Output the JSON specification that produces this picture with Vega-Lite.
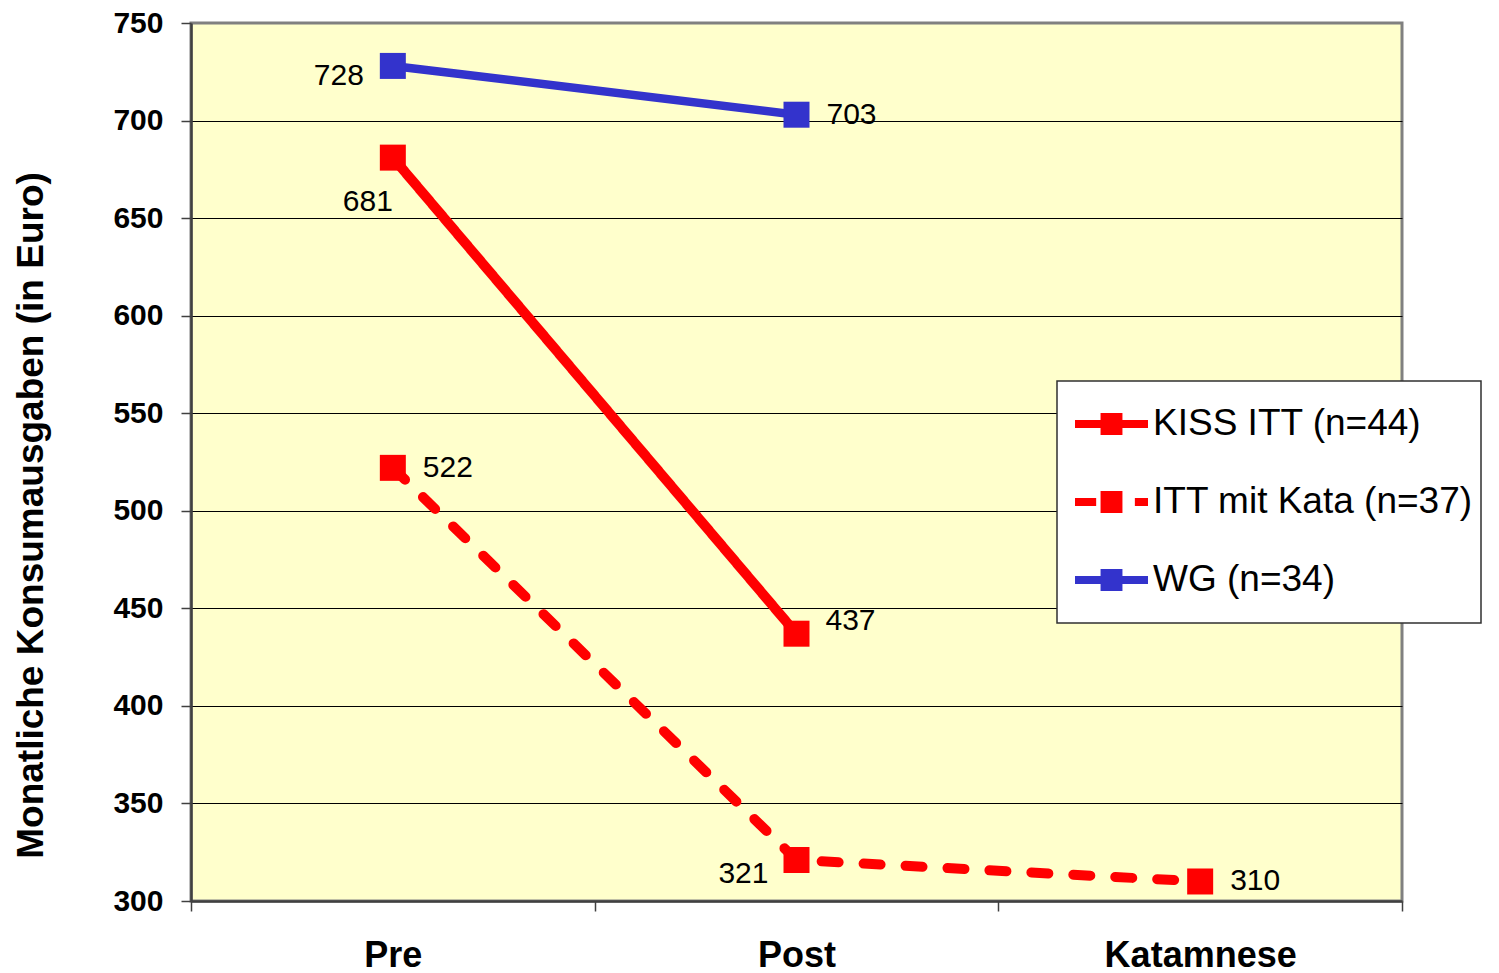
{
  "$schema": "https://vega.github.io/schema/vega-lite/v6.json",
  "width": 1211,
  "height": 878,
  "autosize": {"type": "none"},
  "padding": {"left": 191, "top": 23, "right": 97, "bottom": 72},
  "background": "white",
  "config": {
    "view": {"fill": "#FFFFCC", "stroke": "#808080", "strokeWidth": 3},
    "font": "Liberation Sans"
  },
  "data": {
    "values": [
      {"zeit": "Pre", "gruppe": "KISS ITT (n=44)", "wert": 681},
      {"zeit": "Post", "gruppe": "KISS ITT (n=44)", "wert": 437},
      {"zeit": "Pre", "gruppe": "ITT mit Kata (n=37)", "wert": 522},
      {"zeit": "Post", "gruppe": "ITT mit Kata (n=37)", "wert": 321},
      {"zeit": "Katamnese", "gruppe": "ITT mit Kata (n=37)", "wert": 310},
      {"zeit": "Pre", "gruppe": "WG (n=34)", "wert": 728},
      {"zeit": "Post", "gruppe": "WG (n=34)", "wert": 703}
    ]
  },
  "encoding": {
    "x": {
      "field": "zeit",
      "type": "nominal",
      "sort": ["Pre", "Post", "Katamnese"],
      "scale": {"type": "band", "paddingInner": 0, "paddingOuter": 0},
      "axis": {
        "title": null,
        "labelAngle": 0,
        "labelFont": "Liberation Sans",
        "labelFontSize": 36,
        "labelFontWeight": "bold",
        "labelColor": "black",
        "labelBaseline": "alphabetic",
        "labelPadding": 55,
        "labelLimit": 600,
        "tickBand": "extent",
        "tickSize": 10,
        "tickColor": "#404040",
        "tickWidth": 1.5,
        "domainColor": "#404040",
        "domainWidth": 2.5,
        "grid": false
      }
    },
    "y": {
      "field": "wert",
      "type": "quantitative",
      "scale": {"domain": [300, 750], "nice": false, "zero": false},
      "axis": {
        "title": "Monatliche Konsumausgaben (in Euro)",
        "values": [300, 350, 400, 450, 500, 550, 600, 650, 700, 750],
        "titleFont": "Liberation Sans",
        "titleFontSize": 37,
        "titleFontWeight": "bold",
        "titleColor": "black",
        "titleAngle": -90,
        "titleBaseline": "alphabetic",
        "titleAlign": "center",
        "titleX": -149,
        "titleY": 492,
        "labelFont": "Liberation Sans",
        "labelFontSize": 30,
        "labelFontWeight": "bold",
        "labelColor": "black",
        "labelPadding": 18,
        "tickSize": 10,
        "tickColor": "#404040",
        "tickWidth": 1.5,
        "domainColor": "#404040",
        "domainWidth": 2.5,
        "grid": true,
        "gridColor": {"condition": {"test": "datum.value == 750 || datum.value == 300", "value": "transparent"}, "value": "black"},
        "gridWidth": 1.2
      }
    }
  },
  "layer": [
    {
      "transform": [{"filter": "datum.gruppe !== 'WG (n=34)'"}],
      "mark": {"type": "line", "strokeCap": "round", "strokeJoin": "round", "strokeWidth": 10},
      "encoding": {
        "order": {"value": null},
        "color": {
          "field": "gruppe",
          "type": "nominal",
          "scale": {
            "domain": ["KISS ITT (n=44)", "ITT mit Kata (n=37)", "WG (n=34)"],
            "range": ["#FF0000", "#FF0000", "#3333CC"]
          },
          "legend": {
            "title": null,
            "orient": "none",
            "legendX": 866,
            "legendY": 358,
            "direction": "vertical",
            "padding": 8,
            "fillColor": "white",
            "strokeColor": "#303030",
            "symbolSize": 5329,
            "symbolStrokeWidth": 0,
            "symbolStrokeColor": "transparent",
            "symbolOffset": 10,
            "labelOffset": 5,
            "rowPadding": 8,
            "clipHeight": 70,
            "labelFont": "Liberation Sans",
            "labelFontSize": 37,
            "labelColor": "black",
            "labelLimit": 700,
            "labelBaseline": "middle",
            "encode": {
              "symbols": {
                "update": {
                  "shape": {"signal": "datum.value === 'ITT mit Kata (n=37)' ? 'M-1,-0.11H-0.42V0.11H-1Z M-0.3,-0.3H0.3V0.3H-0.3Z M0.64,-0.11H1V0.11H0.64Z' : 'M-1,-0.11H1V0.11H-1Z M-0.3,-0.3H0.3V0.3H-0.3Z'"},
                  "fill": {"signal": "datum.value === 'WG (n=34)' ? '#3333CC' : '#FF0000'"},
                  "stroke": {"value": "transparent"},
                  "strokeWidth": {"value": 0},
                  "strokeDash": {"value": [1, 0]},
                  "opacity": {"value": 1},
                  "fillOpacity": {"value": 1}
                }
              },
              "legend": {"update": {"strokeWidth": {"value": 1.5}}}
            }
          }
        },
        "strokeDash": {
          "field": "gruppe",
          "type": "nominal",
          "scale": {
            "domain": ["KISS ITT (n=44)", "ITT mit Kata (n=37)", "WG (n=34)"],
            "range": [[1, 0], [17, 25], [1, 0]]
          },
          "legend": null
        }
      }
    },
    {
      "transform": [{"filter": "datum.gruppe === 'WG (n=34)'"}],
      "mark": {"type": "line", "strokeCap": "round", "strokeJoin": "round", "strokeWidth": 8.5},
      "encoding": {
        "order": {"value": null},
        "color": {"field": "gruppe", "type": "nominal"}
      }
    },
    {
      "mark": {"type": "point", "shape": "square", "filled": true, "size": 676, "opacity": 1},
      "encoding": {
        "color": {"field": "gruppe", "type": "nominal"}
      }
    },
    {
      "transform": [{"filter": "datum.gruppe === 'WG (n=34)' && datum.zeit === 'Pre'"}],
      "mark": {"type": "text", "align": "right", "baseline": "middle", "dx": -29, "dy": 10, "fontSize": 30, "font": "Liberation Sans", "color": "black"},
      "encoding": {"text": {"field": "wert", "type": "quantitative"}}
    },
    {
      "transform": [{"filter": "(datum.gruppe === 'WG (n=34)' && datum.zeit === 'Post') || (datum.gruppe === 'ITT mit Kata (n=37)' && datum.zeit !== 'Post')"}],
      "mark": {"type": "text", "align": "left", "baseline": "middle", "dx": 30, "dy": 0, "fontSize": 30, "font": "Liberation Sans", "color": "black"},
      "encoding": {"text": {"field": "wert", "type": "quantitative"}}
    },
    {
      "transform": [{"filter": "datum.gruppe === 'KISS ITT (n=44)' && datum.zeit === 'Post'"}],
      "mark": {"type": "text", "align": "left", "baseline": "middle", "dx": 29, "dy": -13, "fontSize": 30, "font": "Liberation Sans", "color": "black"},
      "encoding": {"text": {"field": "wert", "type": "quantitative"}}
    },
    {
      "transform": [{"filter": "datum.gruppe === 'KISS ITT (n=44)' && datum.zeit === 'Pre'"}],
      "mark": {"type": "text", "align": "right", "baseline": "middle", "dx": 0, "dy": 44, "fontSize": 30, "font": "Liberation Sans", "color": "black"},
      "encoding": {"text": {"field": "wert", "type": "quantitative"}}
    },
    {
      "transform": [{"filter": "datum.gruppe === 'ITT mit Kata (n=37)' && datum.zeit === 'Post'"}],
      "mark": {"type": "text", "align": "right", "baseline": "middle", "dx": -28, "dy": 14, "fontSize": 30, "font": "Liberation Sans", "color": "black"},
      "encoding": {"text": {"field": "wert", "type": "quantitative"}}
    }
  ]
}
